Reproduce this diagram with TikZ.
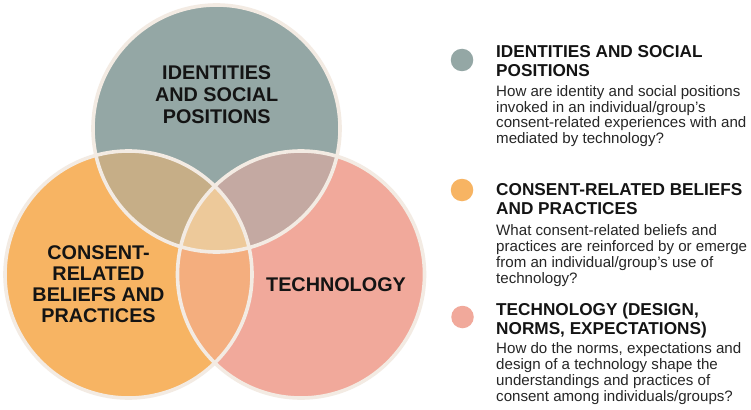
\documentclass[tikz,border=0pt]{standalone}
\usepackage{fontspec}
\setmainfont{Liberation Sans}
\definecolor{idcol}{HTML}{94A7A5}
\definecolor{cscol}{HTML}{F7B463}
\definecolor{tecol}{HTML}{F1A99B}
\definecolor{idcs}{HTML}{C6AE87}
\definecolor{idte}{HTML}{C4A9A2}
\definecolor{cste}{HTML}{F4AE7E}
\definecolor{allcol}{HTML}{EDC99A}
\definecolor{rimcol}{HTML}{F3EBE3}
\definecolor{inkcol}{HTML}{141414}
\definecolor{bodycol}{HTML}{262626}
\tikzset{
  venntext/.style={anchor=base, inner sep=0pt, text=inkcol,
    font=\fontsize{19.8}{21.5}\selectfont\bfseries},
  headtext/.style={anchor=base west, inner sep=0pt, text=inkcol,
    font=\fontsize{17.2}{19}\selectfont\bfseries},
  bodytext/.style={anchor=base west, inner sep=0pt, text=bodycol,
    font=\fontsize{15.1}{15.7}\selectfont},
  legdot/.style={circle, inner sep=0pt, minimum size=22.5pt},
  rim/.style={draw=rimcol, line width=3.6pt}
}
\begin{document}
\begin{tikzpicture}[x=1pt,y=-1pt]
\useasboundingbox[fill=white] (0,0) rectangle (751,409);
% circle centres
\coordinate (cid) at (216.5,128.5);
\coordinate (ccs) at (128.5,274.5);
\coordinate (cte) at (301,274.5);
\def\rr{123.5pt}
% plain discs
\fill[idcol] (cid) circle[radius=\rr];
\fill[cscol] (ccs) circle[radius=\rr];
\fill[tecol] (cte) circle[radius=\rr];
% pairwise overlaps
\begin{scope}
  \clip (cid) circle[radius=\rr];
  \fill[idcs] (ccs) circle[radius=\rr];
  \fill[idte] (cte) circle[radius=\rr];
\end{scope}
\begin{scope}
  \clip (ccs) circle[radius=\rr];
  \fill[cste] (cte) circle[radius=\rr];
\end{scope}
% triple overlap
\begin{scope}
  \clip (cid) circle[radius=\rr];
  \clip (ccs) circle[radius=\rr];
  \fill[allcol] (cte) circle[radius=\rr];
\end{scope}
% outlines
\draw[rim] (cid) circle[radius=\rr];
\draw[rim] (ccs) circle[radius=\rr];
\draw[rim] (cte) circle[radius=\rr];
% circle labels
\node[venntext] (idl1) at (216.7,80) {IDENTITIES};
\node[venntext] (idl2) at (216.7,101.7) {AND SOCIAL};
\node[venntext] (idl3) at (216.7,123.3) {POSITIONS};
\node[venntext] (csl1) at (98.5,259.3) {CONSENT-};
\node[venntext] (csl2) at (98.5,280.5) {RELATED};
\node[venntext] (csl3) at (98.5,301.7) {BELIEFS AND};
\node[venntext] (csl4) at (98.5,322.8) {PRACTICES};
\node[venntext] (tel1) at (336,291.7) {TECHNOLOGY};
% legend: identities
\node[legdot, fill=idcol] (dotid) at (462,60) {};
\node[headtext] (hid1) at (496,57.3) {IDENTITIES AND SOCIAL};
\node[headtext] (hid2) at (496,76.2) {POSITIONS};
\node[bodytext] (bid1) at (496,96.8) {How are identity and social positions};
\node[bodytext] (bid2) at (496,112.3) {invoked in an individual/group’s};
\node[bodytext] (bid3) at (496,127.8) {consent-related experiences with and};
\node[bodytext] (bid4) at (496,143.3) {mediated by technology?};
% legend: consent-related beliefs
\node[legdot, fill=cscol] (dotcs) at (462,190) {};
\node[headtext] (hcs1) at (496,195.7) {CONSENT-RELATED BELIEFS};
\node[headtext] (hcs2) at (496,214.3) {AND PRACTICES};
\node[bodytext] (bcs1) at (496,235.7) {What consent-related beliefs and};
\node[bodytext] (bcs2) at (496,251.5) {practices are reinforced by or emerge};
\node[bodytext] (bcs3) at (496,267.2) {from an individual/group’s use of};
\node[bodytext] (bcs4) at (496,283.2) {technology?};
% legend: technology
\node[legdot, fill=tecol] (dotte) at (462.5,317) {};
\node[headtext] (hte1) at (496,315) {TECHNOLOGY (DESIGN,};
\node[headtext] (hte2) at (496,334) {NORMS, EXPECTATIONS)};
\node[bodytext] (bte1) at (496,353.5) {How do the norms, expectations and};
\node[bodytext] (bte2) at (496,369.5) {design of a technology shape the};
\node[bodytext] (bte3) at (496,385.5) {understandings and practices of};
\node[bodytext] (bte4) at (496,401.5) {consent among individuals/groups?};
\end{tikzpicture}
\end{document}
